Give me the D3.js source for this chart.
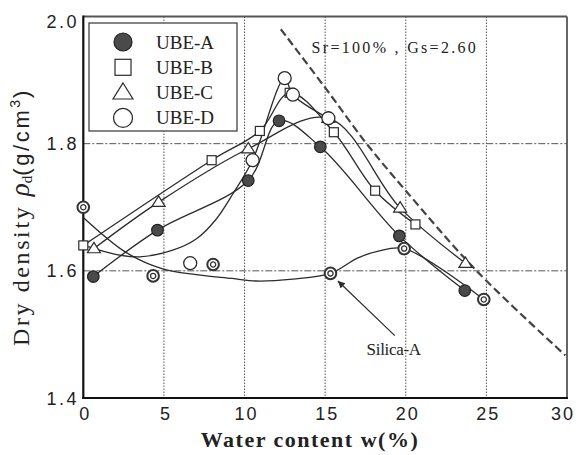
<!DOCTYPE html>
<html><head><meta charset="utf-8">
<script src="https://cdn.jsdelivr.net/npm/d3@7"></script>
<style>html,body{margin:0;padding:0;background:#fff;} svg{display:block;}</style>
</head><body>
<svg id="chart" width="582" height="455"></svg>
<script>
// Compaction curves: dry density vs. water content
const xTicks = [0, 5, 10, 15, 20, 25, 30];
const yTicks = [1.4, 1.6, 1.8, 2.0];
const xGrid = [5, 10, 15, 20, 25];
const yGrid = [1.6, 1.8];

const ubeA = [[0.62,1.591],[4.6,1.664],[10.23,1.742],[12.14,1.836],[14.7,1.795],[19.6,1.655],[23.66,1.569]];
const ubeB = [[0,1.640],[7.96,1.774],[10.95,1.820],[12.8,1.880],[15.54,1.818],[18.1,1.726],[20.6,1.673]];
const ubeC = [[0.66,1.635],[4.67,1.708],[10.23,1.792],[15.2,1.840],[19.65,1.699],[23.7,1.612]];
const ubeD = [[6.63,1.612],[10.5,1.774],[12.49,1.903],[13.0,1.877],[15.2,1.840]];
const ubeDTrend = [[0.3,1.638],[2,1.626],[3.5,1.622],[5.5,1.632],[7,1.650],[8.2,1.680],[9.3,1.722],[10.5,1.774],[12.49,1.903],[13.0,1.877],[15.2,1.840]];
const silicaA = [[0,1.700],[4.33,1.592],[8.05,1.610],[15.33,1.596],[19.9,1.635],[24.84,1.555]];
const silicaATrend = [[0,1.684],[2.65,1.629],[4.92,1.603],[7,1.594],[9.24,1.588],[10.7,1.584],[13,1.587],[15.33,1.596],[17,1.620],[18.3,1.631],[19.9,1.635],[24.84,1.555]];
const saturation = [[12.25,1.980],[15,1.888],[17.57,1.800],[20,1.726],[24.39,1.600],[29.9,1.467]];

const legendNames = ["UBE-A", "UBE-B", "UBE-C", "UBE-D"];
const saturationLabel = "Sr=100% , Gs=2.60";
const silicaLabel = "Silica-A";
const silicaLabelAt = [17.57, 1.467];
const arrowFrom = [19.32, 1.498];
const arrowTo = [15.79, 1.584];

const svg = d3.select("#chart");
const x = d3.scaleLinear().domain([0, 30]).range([83.3, 567]);
const y = d3.scaleLinear().domain([1.4, 2.0]).range([398, 16.5]);
const ink = "#2b2b2b";

// grid
const g = svg.append("g");
g.selectAll(".vg").data(xGrid).join("line")
  .attr("x1", d => x(d)).attr("x2", d => x(d))
  .attr("y1", y(2.0)).attr("y2", y(1.4))
  .attr("stroke", "#555").attr("stroke-width", 1).attr("stroke-dasharray", "1.5,1.5");
g.selectAll(".hg").data(yGrid).join("line")
  .attr("x1", x(0)).attr("x2", x(30))
  .attr("y1", d => y(d)).attr("y2", d => y(d))
  .attr("stroke", "#555").attr("stroke-width", 1).attr("stroke-dasharray", "7,2,2,2");

// frame
svg.append("line").attr("x1", x(0)).attr("x2", x(30)).attr("y1", y(2.0)).attr("y2", y(2.0))
  .attr("stroke", "#555").attr("stroke-width", 1.8);
svg.append("line").attr("x1", x(30)).attr("x2", x(30)).attr("y1", y(2.0)).attr("y2", y(1.4))
  .attr("stroke", "#555").attr("stroke-width", 1.8);
svg.append("line").attr("x1", x(0)).attr("x2", x(0)).attr("y1", y(2.0) - 1).attr("y2", y(1.4) + 1)
  .attr("stroke", "#111").attr("stroke-width", 2.2);
svg.append("line").attr("x1", x(0) - 1).attr("x2", x(30) + 1).attr("y1", y(1.4)).attr("y2", y(1.4))
  .attr("stroke", "#111").attr("stroke-width", 2.2);

// tick labels
svg.selectAll(".xt").data(xTicks).join("text")
  .attr("x", d => Math.min(x(d) + 2, 563)).attr("y", 420)
  .attr("text-anchor", "middle")
  .attr("font-family", "Liberation Sans, Arial, sans-serif").attr("font-size", 18)
  .attr("letter-spacing", 2).attr("fill", "#222")
  .text(d => d);
svg.selectAll(".yt").data(yTicks).join("text")
  .attr("x", 79).attr("y", d => Math.max(y(d), 21) + 6.5)
  .attr("text-anchor", "end")
  .attr("font-family", "Liberation Sans, Arial, sans-serif").attr("font-size", 18)
  .attr("letter-spacing", 2.5).attr("fill", "#222")
  .text(d => d.toFixed(1));

// axis titles
svg.append("text").attr("x", 310).attr("y", 447).attr("text-anchor", "middle")
  .attr("font-family", "Liberation Serif, Times New Roman, serif").attr("font-size", 22)
  .attr("font-weight", "bold").attr("letter-spacing", 1.5).attr("fill", "#222")
  .text("Water content w(%)");

const yt = svg.append("text").attr("transform", "translate(29,346) rotate(-90)")
  .attr("fill", "#222");
yt.append("tspan").attr("font-family", "Liberation Serif, serif").attr("font-size", 24)
  .attr("letter-spacing", 2.6).text("Dry density ");
yt.append("tspan").attr("font-family", "Liberation Serif, serif").attr("font-size", 27)
  .attr("font-style", "italic").text("ρ");
yt.append("tspan").attr("font-family", "Liberation Serif, serif").attr("font-size", 15)
  .attr("dy", 3).text("d");
yt.append("tspan").attr("font-family", "Liberation Sans, sans-serif").attr("font-size", 22)
  .attr("dy", -3).attr("letter-spacing", 2.6).text("(g/cm");
yt.append("tspan").attr("font-family", "Liberation Sans, sans-serif").attr("font-size", 14)
  .attr("dy", -9).text("3");
yt.append("tspan").attr("font-family", "Liberation Sans, sans-serif").attr("font-size", 22)
  .attr("dy", 9).attr("dx", 2).text(")");

// saturation line
const line = d3.line().x(d => x(d[0])).y(d => y(d[1])).curve(d3.curveCatmullRom.alpha(0.5));
svg.append("path").attr("d", line(saturation)).attr("fill", "none")
  .attr("stroke", "#444").attr("stroke-width", 2.2).attr("stroke-dasharray", "8,4");
svg.append("text").attr("x", x(14.16)).attr("y", y(1.942))
  .attr("font-family", "Liberation Serif, serif").attr("font-size", 16)
  .attr("letter-spacing", 2.3).attr("fill", "#222").text(saturationLabel);

// trend curves
[ubeA, ubeB, ubeC, ubeDTrend, silicaATrend].forEach(s => {
  svg.append("path").attr("d", line(s)).attr("fill", "none")
    .attr("stroke", ink).attr("stroke-width", 1.3);
});

// arrow to Silica-A
svg.append("defs").append("marker").attr("id", "ah")
  .attr("viewBox", "0 0 10 10").attr("refX", 10).attr("refY", 5)
  .attr("markerWidth", 10).attr("markerHeight", 7).attr("markerUnits", "userSpaceOnUse")
  .attr("orient", "auto")
  .append("path").attr("d", "M0,0L10,5L0,10Z").attr("fill", ink);
svg.append("line").attr("x1", x(arrowFrom[0])).attr("y1", y(arrowFrom[1]))
  .attr("x2", x(arrowTo[0])).attr("y2", y(arrowTo[1]))
  .attr("stroke", ink).attr("stroke-width", 1.2).attr("marker-end", "url(#ah)");
svg.append("text").attr("x", x(silicaLabelAt[0])).attr("y", y(silicaLabelAt[1]))
  .attr("font-family", "Liberation Serif, serif").attr("font-size", 17)
  .attr("letter-spacing", -0.3).attr("fill", "#222").text(silicaLabel);

// marker drawers
function filledCircle(sel, r) {
  sel.append("circle").attr("r", r).attr("fill", "#4a4a4a").attr("stroke", "#222").attr("stroke-width", 1.2);
}
function square(sel, s) {
  sel.append("rect").attr("x", -s/2).attr("y", -s/2).attr("width", s).attr("height", s)
    .attr("fill", "#fff").attr("stroke", ink).attr("stroke-width", 1.2);
}
function triangle(sel, s) {
  const h = s * 0.8;
  sel.append("path").attr("d", `M0,${-h*0.6}L${s/2},${h*0.4}L${-s/2},${h*0.4}Z`)
    .attr("fill", "#fff").attr("stroke", ink).attr("stroke-width", 1.2);
}
function openCircle(sel, r) {
  sel.append("circle").attr("r", r).attr("fill", "#fff").attr("stroke", ink).attr("stroke-width", 1.3);
}
function ringCircle(sel, r) {
  sel.append("circle").attr("r", r).attr("fill", "#fff").attr("stroke", "#333").attr("stroke-width", 2);
  sel.append("circle").attr("r", r * 0.45).attr("fill", "#fff").attr("stroke", "#333").attr("stroke-width", 1.3);
}

function plotMarks(data, draw, size) {
  svg.append("g").selectAll("g").data(data).join("g")
    .attr("transform", d => `translate(${x(d[0])},${y(d[1])})`)
    .each(function () { draw(d3.select(this), size); });
}
plotMarks(ubeB, square, 9);
plotMarks(ubeC, triangle, 13);
plotMarks(ubeD, openCircle, 6.5);
plotMarks(silicaA, ringCircle, 5.8);
plotMarks(ubeA, filledCircle, 5.8);

// legend
const lg = svg.append("g").attr("transform", "translate(89,23)");
lg.append("rect").attr("width", 148).attr("height", 108).attr("fill", "#fff")
  .attr("stroke", "#444").attr("stroke-width", 1.3);
const legendDraw = [[filledCircle, 9], [square, 16], [triangle, 20], [openCircle, 9.5]];
legendNames.forEach((name, i) => {
  const row = lg.append("g").attr("transform", `translate(0,${19 + i * 25.3})`);
  const m = row.append("g").attr("transform", "translate(34,0)");
  legendDraw[i][0](m, legendDraw[i][1]);
  row.append("text").attr("x", 67).attr("y", 6.5)
    .attr("font-family", "Liberation Serif, serif").attr("font-size", 19)
    .attr("fill", "#222").text(name);
});
</script>
</body></html>
